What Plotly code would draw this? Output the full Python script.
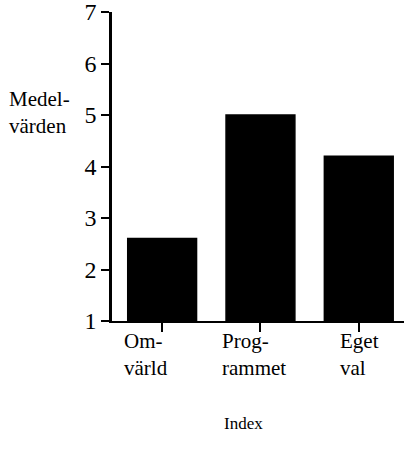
import plotly.graph_objects as go

categories = ["Om-<br>värld", "Prog-<br>rammet", "Eget<br>val"]
values = [2.6, 5.0, 4.2]
y_ticks = [1, 2, 3, 4, 5, 6, 7]
y_title = "Medel-<br>värden"
x_title = "Index"

FONT = "'Liberation Serif', 'Times New Roman', serif"
xpos = list(range(len(categories)))

fig = go.Figure()
fig.add_trace(go.Bar(
    x=xpos, y=[v - 1 for v in values], base=1, width=0.7,
    marker=dict(color="black", line=dict(color="black", width=1.5)),
    hoverinfo="skip",
))

label_shift = [-40, -40, -21]
for i, (xc, t) in enumerate(zip(xpos, categories)):
    fig.add_annotation(x=xc, xref="x", y=0, yref="paper", text=t,
                       showarrow=False, xanchor="left", yanchor="top",
                       align="left", xshift=label_shift[i], yshift=-6,
                       font=dict(family=FONT, size=21, color="black"))

fig.add_annotation(x=0, xref="paper", y=5, yref="y", text=y_title,
                   showarrow=False, xanchor="left", yanchor="middle",
                   align="left", xshift=-105, yshift=3,
                   font=dict(family=FONT, size=21, color="black"))
fig.add_annotation(x=0.45, xref="paper", y=0, yref="paper", text=x_title,
                   showarrow=False, xanchor="center", yanchor="middle",
                   yshift=-102,
                   font=dict(family=FONT, size=17, color="black"))

fig.update_layout(
    width=404, height=464,
    margin=dict(l=112, r=0, t=12, b=143),
    paper_bgcolor="white", plot_bgcolor="white",
    showlegend=False,
    font=dict(family=FONT, color="black"),
    xaxis=dict(range=[-0.51, 2.46], tickvals=xpos, showticklabels=False,
               ticks="outside", ticklen=9, tickwidth=2, tickcolor="black",
               showline=True, linecolor="black", linewidth=2,
               showgrid=False, zeroline=False, fixedrange=True),
    yaxis=dict(range=[1, 7], tickvals=y_ticks, ticks="outside", ticklen=8,
               tickwidth=2, tickcolor="black", ticklabeloverflow="allow",
               tickfont=dict(family=FONT, size=24, color="black"),
               showline=True, linecolor="black", linewidth=2.5,
               showgrid=False, zeroline=False, fixedrange=True),
)

fig.write_html("out.html", config={"displayModeBar": False},
               post_script="document.body.style.margin='0';document.body.style.overflow='hidden';")
